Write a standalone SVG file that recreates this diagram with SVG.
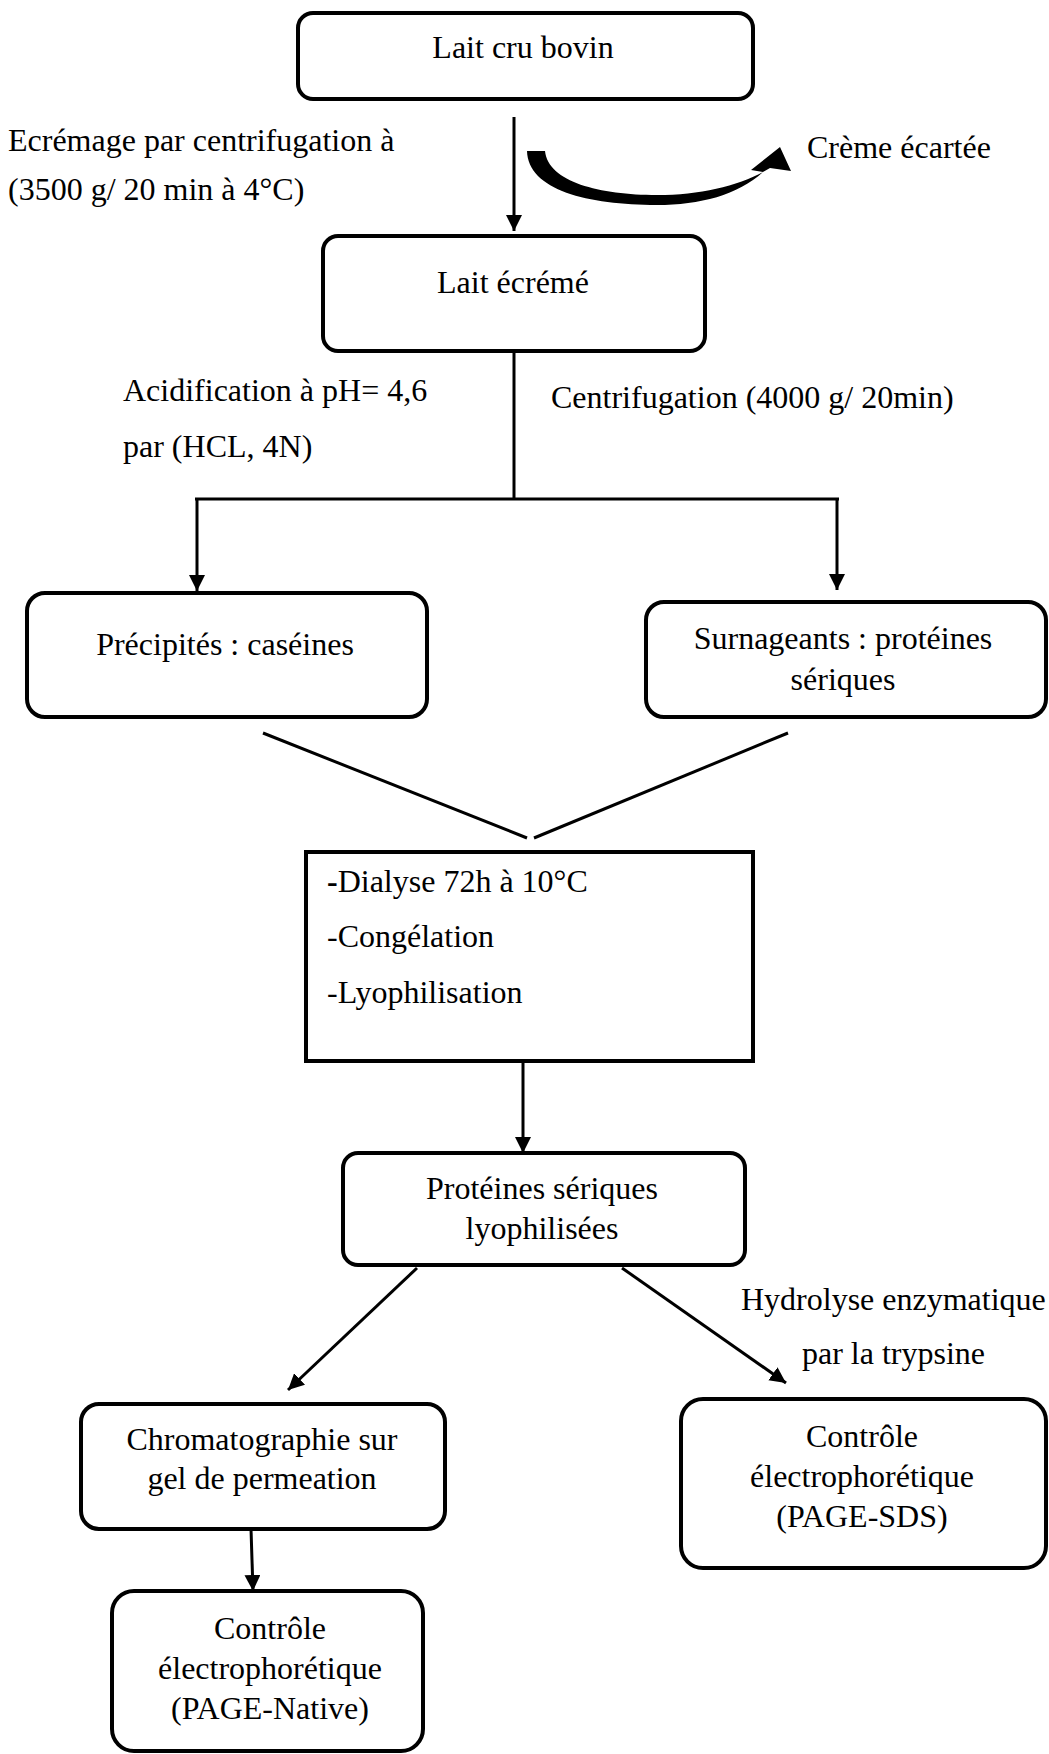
<svg xmlns="http://www.w3.org/2000/svg" width="1049" height="1754" viewBox="0 0 1049 1754">
<style>
.box{fill:#fff;stroke:#000;stroke-width:4}
.t{font-family:"Liberation Serif","Times New Roman",serif;font-size:32px;fill:#000}
.c{text-anchor:middle}
.ln{stroke:#000;stroke-width:3;fill:none}
</style>
<defs>
<marker id="ah" markerUnits="userSpaceOnUse" markerWidth="16" markerHeight="16" viewBox="0 0 16 16" refX="16" refY="8" orient="auto">
<path d="M0,0 L16,8 L0,16 Z" fill="#000"/>
</marker>
</defs>
<rect width="1049" height="1754" fill="#fff"/>
<g id="connectors">
<line class="ln" x1="514" y1="117" x2="514" y2="231" stroke-width="2" marker-end="url(#ah)"/>
<path d="M527,151 L545,151 C548,182 600,195 657,195 C703,195 742,185 770,168 L791,171 L780,147 L751,170 L763,172 C738,195 700,205 657,205 C588,205 528,190 527,151 Z" fill="#000"/>
<line class="ln" x1="514" y1="351" x2="514" y2="499"/>
<line class="ln" x1="195" y1="499" x2="839" y2="499" stroke-width="4"/>
<line class="ln" x1="197" y1="499" x2="197" y2="591" marker-end="url(#ah)"/>
<line class="ln" x1="837" y1="499" x2="837" y2="590" marker-end="url(#ah)"/>
<line class="ln" x1="263" y1="733" x2="527" y2="838" stroke-width="3.5"/>
<line class="ln" x1="788" y1="733" x2="534" y2="838" stroke-width="3.5"/>
<line class="ln" x1="523" y1="1061" x2="523" y2="1153" marker-end="url(#ah)"/>
<line class="ln" x1="417" y1="1268" x2="288" y2="1390" marker-end="url(#ah)"/>
<line class="ln" x1="622" y1="1268" x2="786" y2="1383" marker-end="url(#ah)"/>
<line class="ln" x1="251" y1="1529" x2="253" y2="1591" marker-end="url(#ah)"/>
</g>
<g id="labels">
<text class="t" x="8" y="151">Ecrémage par centrifugation à</text>
<text class="t" x="8" y="200">(3500 g/ 20 min à 4°C)</text>
<text class="t" x="807" y="158">Crème écartée</text>
<text class="t" x="123" y="401">Acidification à pH= 4,6</text>
<text class="t" x="123" y="457">par (HCL, 4N)</text>
<text class="t" x="551" y="408">Centrifugation (4000 g/ 20min)</text>
<text class="t" x="741" y="1310">Hydrolyse enzymatique</text>
<text class="t" x="802" y="1364">par la trypsine</text>
</g>
<g id="n1">
<rect class="box" x="298" y="13" width="455" height="86" rx="15"/>
<text class="t c" x="523" y="58">Lait cru bovin</text>
</g>
<g id="n2">
<rect class="box" x="323" y="236" width="382" height="115" rx="15"/>
<text class="t c" x="513" y="293">Lait écrémé</text>
</g>
<g id="n3">
<rect class="box" x="27" y="593" width="400" height="124" rx="18"/>
<text class="t c" x="225" y="655">Précipités : caséines</text>
</g>
<g id="n4">
<rect class="box" x="646" y="602" width="400" height="115" rx="18"/>
<text class="t c" x="843" y="649">Surnageants : protéines</text>
<text class="t c" x="843" y="690">sériques</text>
</g>
<g id="n5">
<rect class="box" x="306" y="852" width="447" height="209" stroke-width="3"/>
<text class="t" x="327" y="892"><tspan font-weight="bold">-</tspan>Dialyse 72h à 10°C</text>
<text class="t" x="327" y="947">-Congélation</text>
<text class="t" x="327" y="1003">-Lyophilisation</text>
</g>
<g id="n6">
<rect class="box" x="343" y="1153" width="402" height="112" rx="15"/>
<text class="t c" x="542" y="1199">Protéines sériques</text>
<text class="t c" x="542" y="1239">lyophilisées</text>
</g>
<g id="n7">
<rect class="box" x="81" y="1404" width="364" height="125" rx="18"/>
<text class="t c" x="262" y="1450">Chromatographie sur</text>
<text class="t c" x="262" y="1489">gel de permeation</text>
</g>
<g id="n8">
<rect class="box" x="681" y="1399" width="365" height="169" rx="22"/>
<text class="t c" x="862" y="1447">Contrôle</text>
<text class="t c" x="862" y="1487">électrophorétique</text>
<text class="t c" x="862" y="1527">(PAGE-SDS)</text>
</g>
<g id="n9">
<rect class="box" x="112" y="1591" width="311" height="160" rx="22"/>
<text class="t c" x="270" y="1639">Contrôle</text>
<text class="t c" x="270" y="1679">électrophorétique</text>
<text class="t c" x="270" y="1719">(PAGE-Native)</text>
</g>
</svg>
